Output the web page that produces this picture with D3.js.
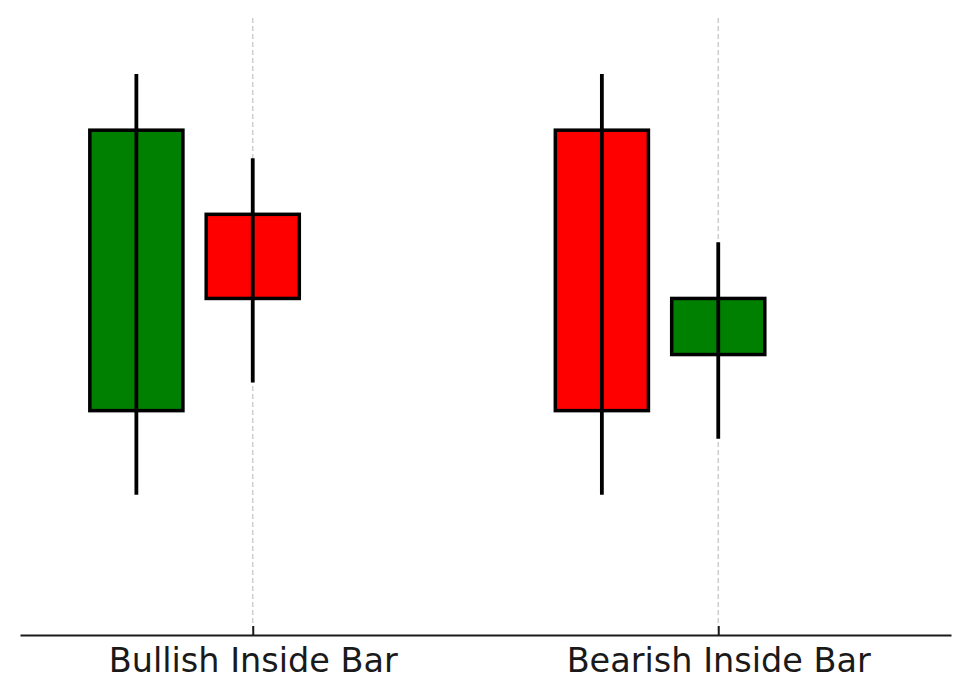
<!DOCTYPE html>
<meta charset="utf-8">
<style>
  body { margin: 0; background: white; }
</style>
<body>
<div id="chart"></div>
<script src="https://d3js.org/d3.v7.min.js"></script>
<script>
// candle data (x position, open, high, low, close)
var xs     = [0, 1, 4, 5];
var opens  = [100, 107, 110, 102];
var highs  = [112, 109, 112, 106];
var lows   = [97, 101, 97, 99];
var closes = [110, 104, 100, 104];
var tickPos    = [1, 5];
var tickLabels = ["Bullish Inside Bar", "Bearish Inside Bar"];

var W = 969, H = 698;
var svg = d3.select("#chart").append("svg").attr("width", W).attr("height", H);

var x = d3.scaleLinear().domain([-1, 7]).range([20, 951]);
var y = d3.scaleLinear().domain([92, 114]).range([635, 18]);

var candles = xs.map((d, i) => ({ x: d, o: opens[i], h: highs[i], l: lows[i], c: closes[i] }));

// dashed grid at ticks
svg.selectAll(".grid").data(tickPos).enter().append("line")
  .attr("x1", d => x(d)).attr("x2", d => x(d))
  .attr("y1", y(114)).attr("y2", y(92))
  .attr("stroke", "#c8c8c8").attr("stroke-width", 1.3)
  .attr("stroke-dasharray", "5,3");

var bw = 0.8;
svg.selectAll(".body").data(candles).enter().append("rect")
  .attr("x", d => x(d.x - bw / 2))
  .attr("width", x(bw) - x(0))
  .attr("y", d => y(Math.max(d.o, d.c)))
  .attr("height", d => Math.abs(y(d.o) - y(d.c)))
  .attr("fill", d => d.c >= d.o ? "green" : "red")
  .attr("stroke", "black").attr("stroke-width", 3.5);

svg.selectAll(".wick").data(candles).enter().append("line")
  .attr("x1", d => x(d.x)).attr("x2", d => x(d.x))
  .attr("y1", d => y(d.h)).attr("y2", d => y(d.l))
  .attr("stroke", "black").attr("stroke-width", 3.8);

var axis = svg.append("g")
  .attr("transform", "translate(0," + y(92) + ")")
  .call(d3.axisBottom(x).tickValues(tickPos).tickFormat((d, i) => tickLabels[i])
    .tickSizeInner(-9).tickSizeOuter(0).tickPadding(13));
axis.attr("font-family", "DejaVu Sans, sans-serif").attr("font-size", 33.5);
axis.select(".domain").attr("stroke", "#1a1a1a").attr("stroke-width", 2.2);
axis.selectAll(".tick line").attr("stroke", "#1a1a1a").attr("stroke-width", 2);
axis.selectAll(".tick text").attr("fill", "#1a1a1a").attr("dy", "0.71em");
</script>
</body>
